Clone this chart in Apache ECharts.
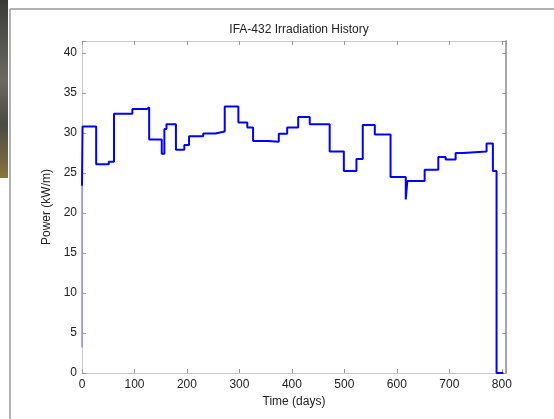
<!DOCTYPE html>
<html>
<head>
<meta charset="utf-8">
<script src="https://cdn.jsdelivr.net/npm/echarts@6/dist/echarts.min.js"></script>
<style>
html,body{margin:0;padding:0;background:#fff;}
#c{width:554px;height:419px;}
</style>
</head>
<body>
<div id="c"></div>
<script>
var titleText = 'IFA-432 Irradiation History';
var xName = 'Time (days)';
var yName = 'Power (kW/m)';
// start-up ramp (drawn faint in the reference)
var rampDays = [0, 0];
var rampPowers = [3.2, 23.4];
// step start times (days) and power held from each start until the next
var days = [0, 1, 27, 51, 61, 96, 124, 128, 152, 157, 161, 179, 195, 204, 231, 254, 272, 298, 315, 326, 354, 375, 391, 412, 434, 472, 499, 523, 535, 558, 588, 617, 620, 653, 679, 693, 712, 726, 771, 783, 790, 803];
var powers = [23.4, 30.8, 26.1, 26.4, 32.4, 33.0, 33.2, 29.2, 27.4, 30.5, 31.1, 27.9, 28.5, 29.6, 29.95, 30.2, 33.3, 31.3, 30.7, 29.0, 28.9, 29.9, 30.7, 32.0, 31.1, 27.7, 25.25, 26.75, 31.0, 29.8, 24.5, 21.7, 24.0, 25.4, 27.0, 26.7, 27.5, 27.7, 28.7, 25.25, 0, 0];
var xTicks = [0, 100, 200, 300, 400, 500, 600, 700, 800];
var yTicks = [0, 5, 10, 15, 20, 25, 30, 35, 40];

var data = days.map(function (d, i) { return [d, powers[i]]; });
var rampData = rampDays.map(function (d, i) { return [d, rampPowers[i]]; });
var font = 'Liberation Sans, Arial, Helvetica, sans-serif';
var txt = '#222';

var chart = echarts.init(document.getElementById('c'), null, {renderer: 'canvas'});
function fmtX(v) { return xTicks.indexOf(v) >= 0 ? String(v) : ''; }
function fmtY(v) { return yTicks.indexOf(v) >= 0 ? String(v) : ''; }
var tick = {show: true, inside: true, length: 4, lineStyle: {color: '#999'}};
chart.setOption({
  animation: false,
  backgroundColor: '#fff',
  title: {
    text: titleText, left: 294, top: 19, textAlign: 'center',
    textStyle: {fontFamily: font, fontSize: 12, fontWeight: 'normal', color: txt}
  },
  grid: {left: 82, top: 41, right: 48, bottom: 46, containLabel: false},
  xAxis: [{
    type: 'value', min: 0, max: 808, interval: 100, position: 'bottom',
    name: xName, nameLocation: 'middle', nameGap: 21,
    nameTextStyle: {fontFamily: font, fontSize: 12, color: txt},
    axisLine: {show: true, onZero: false, lineStyle: {color: '#c8c8c8', width: 1}},
    axisTick: tick,
    axisLabel: {fontFamily: font, fontSize: 12, color: txt, margin: 6, formatter: fmtX},
    splitLine: {show: false}
  }, {
    type: 'value', min: 0, max: 808, interval: 100, position: 'top',
    axisLine: {show: true, onZero: false, lineStyle: {color: '#c8c8c8', width: 1}},
    axisTick: tick, axisLabel: {show: false}, splitLine: {show: false}
  }],
  yAxis: [{
    type: 'value', min: 0, max: 41.5, interval: 5, position: 'left',
    name: yName, nameLocation: 'middle', nameGap: 26,
    nameTextStyle: {fontFamily: font, fontSize: 12, color: txt},
    axisLine: {show: true, onZero: false, lineStyle: {color: '#c8c8c8', width: 1}},
    axisTick: tick,
    axisLabel: {fontFamily: font, fontSize: 12, color: txt, margin: 5, formatter: fmtY},
    splitLine: {show: false}
  }, {
    type: 'value', min: 0, max: 41.5, interval: 5, position: 'right',
    axisLine: {show: true, onZero: false, lineStyle: {color: '#a8a8a8', width: 2}},
    axisTick: tick, axisLabel: {show: false}, splitLine: {show: false}
  }],
  graphic: [
    {type: 'rect', left: 0, top: 0, z: -1, shape: {width: 8, height: 178},
     style: {fill: new echarts.graphic.LinearGradient(0, 0, 0, 1, [
       {offset: 0, color: '#3a3a38'}, {offset: 0.45, color: '#6a6a62'},
       {offset: 0.7, color: '#4a4a44'}, {offset: 1, color: '#8a7440'}])}},
    {type: 'line', shape: {x1: 10, y1: 9, x2: 554, y2: 9}, style: {stroke: '#9a9a9a', lineWidth: 1.5}},
    {type: 'line', shape: {x1: 10, y1: 9, x2: 10, y2: 419}, style: {stroke: '#9a9a9a', lineWidth: 1.5}}
  ],
  series: [{
    type: 'line', data: rampData, xAxisIndex: 0, yAxisIndex: 0,
    showSymbol: false, symbol: 'none',
    lineStyle: {color: '#7878ff', width: 1.2},
    z: 3
  }, {
    type: 'line', step: 'end', data: data, xAxisIndex: 0, yAxisIndex: 0,
    showSymbol: false, symbol: 'none',
    lineStyle: {color: '#0000ff', width: 2},
    z: 4
  }]
});
</script>
</body>
</html>
